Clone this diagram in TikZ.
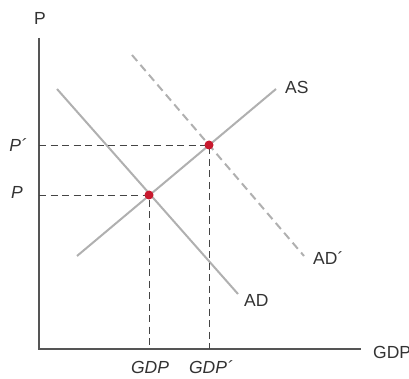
\documentclass[tikz,border=0pt]{standalone}
\usepackage{fontspec}
\setmainfont{Liberation Sans}
\definecolor{axisgray}{HTML}{555555}
\definecolor{curvegray}{HTML}{B0B0B0}
\definecolor{guidegray}{HTML}{444444}
\definecolor{dotred}{HTML}{C8192E}
\definecolor{txtgray}{HTML}{333333}
\begin{document}
\begin{tikzpicture}[x=1pt,y=-1pt,
  axisline/.style={draw=axisgray,line width=1.2pt},
  curve/.style={draw=curvegray,line width=2pt},
  shiftcurve/.style={draw=curvegray,line width=2pt,dash pattern=on 8pt off 5pt},
  guide/.style={draw=guidegray,line width=0.9pt,dash pattern=on 7pt off 4.5pt},
  eqdot/.style={circle,fill=dotred,inner sep=0pt,minimum size=9pt},
  lbl/.style={font=\fontsize{17.5}{20}\selectfont,text=txtgray,inner sep=0pt},
  ilbl/.style={font=\fontsize{17.5}{20}\selectfont\itshape,text=txtgray,inner sep=0pt}]
\useasboundingbox (0,0) rectangle (409,379);
\clip (0,0) rectangle (409,379);
% axes
\coordinate (O) at (39,349);
\coordinate (ytop) at (39,38);
\coordinate (xend) at (361,349);
\draw[axisline] (ytop) -- (O) -- (xend);
\node[lbl] (Plab) at (40,18) {P};
\node[lbl,anchor=west] (GDPlab) at (373,352) {GDP};
% curves
\coordinate (as1) at (77,256);
\coordinate (as2) at (276,89);
\coordinate (ad1) at (57,89);
\coordinate (ad2) at (238,294);
\coordinate (adp1) at (132,55);
\coordinate (adp2) at (304,256);
\draw[shiftcurve] (adp1) -- (adp2);
\draw[curve] (ad1) -- (ad2);
\draw[curve] (as1) -- (as2);
% equilibrium points
\coordinate (e1) at (149,195);
\coordinate (e2) at (209,145);
\coordinate (ye1) at (39,195);
\coordinate (ye2) at (39,145);
\coordinate (xe1) at (149,349);
\coordinate (xe2) at (209,349);
\draw[guide] (ye1) -- (e1) -- (xe1);
\draw[guide] (ye2) -- (e2) -- (xe2);
\node[eqdot] (E1) at (e1) {};
\node[eqdot] (E2) at (e2) {};
% labels
\node[lbl,anchor=west] (ASlab) at (285,87) {AS};
\node[lbl,anchor=west] (ADplab) at (313,258) {AD´};
\node[lbl,anchor=west] (ADlab) at (244,300) {AD};
\node[ilbl] (Pplab) at (18,145) {P´};
\node[ilbl] (Pl) at (17,192) {P};
\node[ilbl] (gdp1) at (150,367) {GDP};
\node[ilbl] (gdp2) at (211,367) {GDP´};
\end{tikzpicture}
\end{document}
